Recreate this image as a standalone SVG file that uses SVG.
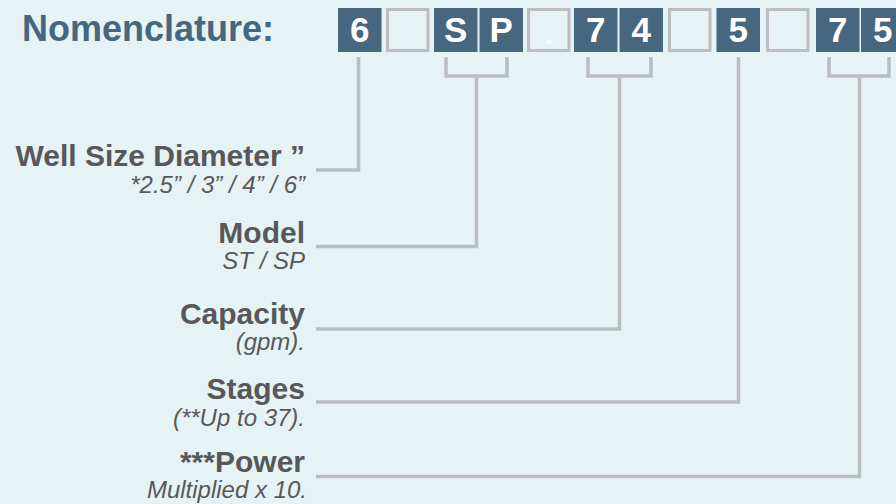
<svg xmlns="http://www.w3.org/2000/svg" width="896" height="504" viewBox="0 0 896 504">
<style>
.bg{fill:#e5f3f4}
.box{fill:#46677f}
.empty{fill:#e5f3f4;stroke:#bcbdc1;stroke-width:3}
.dig{font-family:"Liberation Sans",Arial,sans-serif;font-weight:bold;font-size:35px;fill:#ffffff;text-anchor:middle}
.title{font-family:"Liberation Sans",Arial,sans-serif;font-weight:bold;font-size:36px;fill:#46677f}
.lbl{font-family:"Liberation Sans",Arial,sans-serif;font-weight:bold;font-size:30px;fill:#58585a;text-anchor:end}
.sub{font-family:"Liberation Sans",Arial,sans-serif;font-style:italic;font-size:24px;fill:#58585a;text-anchor:end}
.ln{fill:none;stroke:#bcbdc1;stroke-width:3.5}
</style>
<rect class="bg" x="0" y="0" width="896" height="504"/>
<text class="title" x="22" y="41">Nomenclature:</text>
<g id="code">
<g id="c1"><rect class="box" x="338" y="8" width="43.5" height="44"/><text class="dig" x="359.8" y="42">6</text></g>
<g id="c2"><rect class="empty" x="387.5" y="9.5" width="40.5" height="41"/></g>
<g id="c3"><rect class="box" x="434" y="8" width="43.5" height="44"/><text class="dig" x="455.8" y="42">S</text></g>
<g id="c4"><rect class="box" x="479.5" y="8" width="43.5" height="44"/><text class="dig" x="501.3" y="42">P</text></g>
<g id="c5"><rect class="empty" x="528.5" y="9.5" width="40.5" height="41"/><text class="dig" x="549" y="44" style="font-size:28px">.</text></g>
<g id="c6"><rect class="box" x="574" y="8" width="43.5" height="44"/><text class="dig" x="595.8" y="42">7</text></g>
<g id="c7"><rect class="box" x="619.5" y="8" width="43.5" height="44"/><text class="dig" x="641.3" y="42">4</text></g>
<g id="c8"><rect class="empty" x="669.5" y="9.5" width="40.5" height="41"/></g>
<g id="c9"><rect class="box" x="716.5" y="8" width="43.5" height="44"/><text class="dig" x="738.3" y="42">5</text></g>
<g id="c10"><rect class="empty" x="767.5" y="9.5" width="40.5" height="41"/></g>
<g id="c11"><rect class="box" x="816" y="8" width="43.5" height="44"/><text class="dig" x="837.8" y="42">7</text></g>
<g id="c12"><rect class="box" x="861" y="8" width="43.5" height="44"/><text class="dig" x="882.8" y="42">5</text></g>
</g>
<g id="connectors">
<path class="ln" d="M358.5 57 V170 H316"/>
<path class="ln" d="M446 57 V76 H507 V57 M476.5 76 V246.5 H316"/>
<path class="ln" d="M588 57 V76 H651 V57 M619.5 76 V329 H316"/>
<path class="ln" d="M738.5 57 V402 H316"/>
<path class="ln" d="M829 57 V76 H889 V57 M859.5 76 V476.5 H316"/>
</g>
<g id="well"><text class="lbl" x="305" y="166">Well Size Diameter ”</text><text class="sub" x="305" y="193">*2.5” / 3” / 4” / 6”</text></g>
<g id="model"><text class="lbl" x="305" y="243">Model</text><text class="sub" x="305" y="269">ST / SP</text></g>
<g id="capacity"><text class="lbl" x="305" y="324">Capacity</text><text class="sub" x="305" y="350">(gpm).</text></g>
<g id="stages"><text class="lbl" x="305" y="399">Stages</text><text class="sub" x="305" y="426">(**Up to 37).</text></g>
<g id="power"><text class="lbl" x="305" y="472">***Power</text><text class="sub" x="307" y="498">Multiplied x 10.</text></g>
</svg>
